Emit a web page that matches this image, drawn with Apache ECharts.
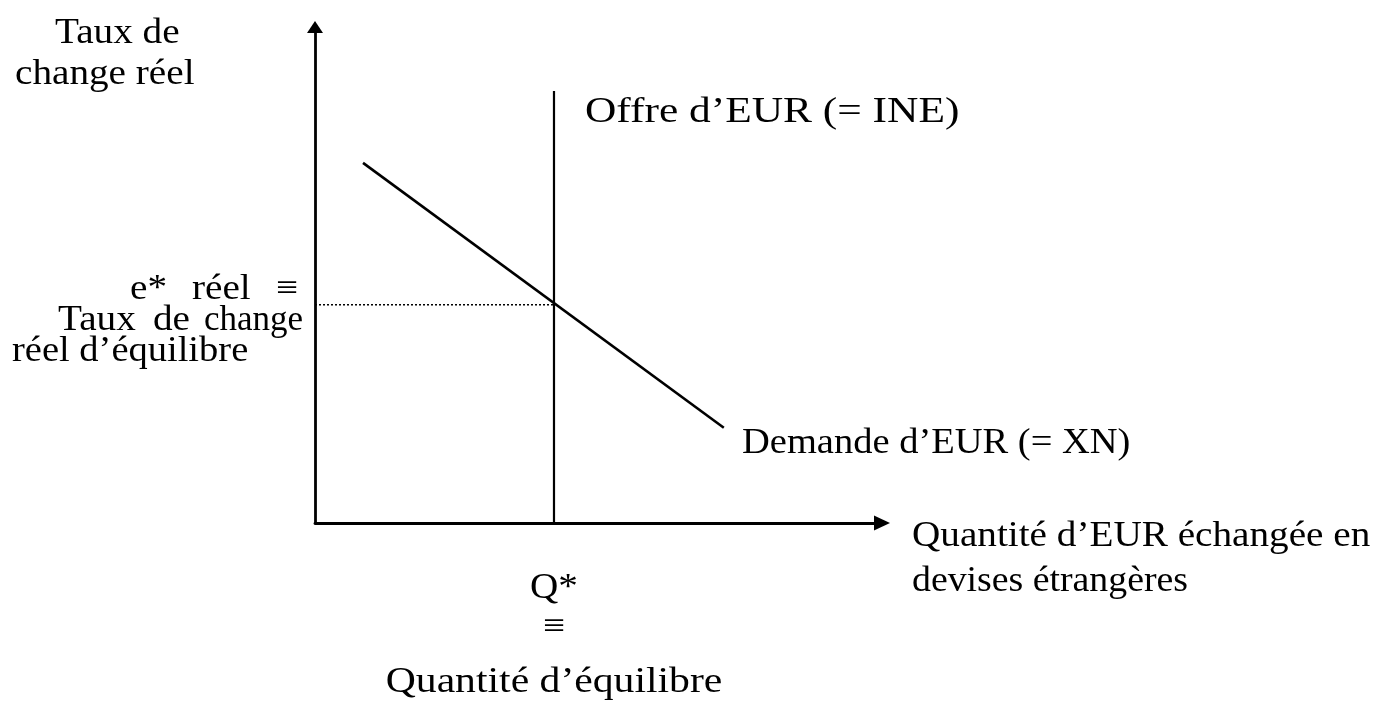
<!DOCTYPE html>
<html>
<head>
<meta charset="utf-8">
<script src="https://cdn.jsdelivr.net/npm/echarts@6/dist/echarts.min.js"></script>
<style>
  html, body { margin: 0; padding: 0; background: #fff; }
  #chart { width: 1378px; height: 701px; }
</style>
</head>
<body>
<div id="chart"></div>
<script>
// values (axis scale 0..100 on both axes)
var supplyLine = [[42.15, 0], [42.15, 87.1]];          // Offre d'EUR (= INE)
var demandLine = [[8.47, 72.6], [72.1, 19.2]];          // Demande d'EUR (= XN)
var equilibrium = [42.15, 44];                           // e*, Q*
var dottedLine = [[0, equilibrium[1]], [equilibrium[0], equilibrium[1]]];

var FONT = '35px "Liberation Serif", "Times New Roman", serif';

function txt(text, x, y, align, sx) {
  return {
    type: 'text',
    x: x,
    y: y,
    scaleX: sx || 1.12, // text in the picture is a bit wider than Times
    style: {
      text: text,
      font: FONT,
      fill: '#000',
      textAlign: align || 'left',
      textVerticalAlign: 'middle'
    }
  };
}

var chart = echarts.init(document.getElementById('chart'));

var option = {
  backgroundColor: '#fff',
  animation: false,
  grid: { left: 315, right: 496, top: 27, bottom: 178 },
  xAxis: {
    type: 'value',
    min: 0,
    max: 100,
    splitLine: { show: false },
    axisTick: { show: false },
    axisLabel: { show: false },
    axisLine: {
      show: true,
      symbol: ['none', 'triangle'],
      symbolSize: [15, 16],
      lineStyle: { color: '#000', width: 2.8 }
    }
  },
  yAxis: {
    type: 'value',
    min: 0,
    max: 100,
    splitLine: { show: false },
    axisTick: { show: false },
    axisLabel: { show: false },
    axisLine: {
      show: true,
      symbol: ['none', 'triangle'],
      symbolSize: [16, 12],
      lineStyle: { color: '#000', width: 2.8 }
    }
  },
  series: [
    {
      type: 'line',
      data: supplyLine,
      showSymbol: false,
      lineStyle: { color: '#000', width: 2.2 },
      silent: true
    },
    {
      type: 'line',
      data: demandLine,
      showSymbol: false,
      lineStyle: { color: '#000', width: 2.6 },
      silent: true
    },
    {
      type: 'line',
      data: dottedLine,
      showSymbol: false,
      lineStyle: { color: '#000', width: 1.5, type: [2, 2] },
      silent: true
    }
  ],
  graphic: [
    txt('Taux de', 55, 34),
    txt('change réel', 15, 75),
    txt('Offre d\u2019EUR (= INE)', 585, 113, 'left', 1.24),
    txt('Demande d\u2019EUR (= XN)', 742, 444, 'left', 1.1),
    txt('Quantité d\u2019EUR échangée en', 912, 537),
    txt('devises étrangères', 912, 582, 'left', 1.08),
    // justified label on the left of the dotted line
    txt('e*', 130, 290),
    txt('réel', 192, 290),
    txt('\u2261', 298, 290, 'right'),
    txt('Taux', 58, 321),
    txt('de', 153, 321),
    txt('change', 303, 321, 'right', 1.0),
    txt('réel d\u2019équilibre', 12, 352, 'left', 1.1),
    // under the equilibrium quantity
    txt('Q*', 554, 589, 'center'),
    txt('\u2261', 554, 628, 'center'),
    txt('Quantité d\u2019équilibre', 554, 683, 'center', 1.19)
  ]
};

chart.setOption(option);
</script>
</body>
</html>
